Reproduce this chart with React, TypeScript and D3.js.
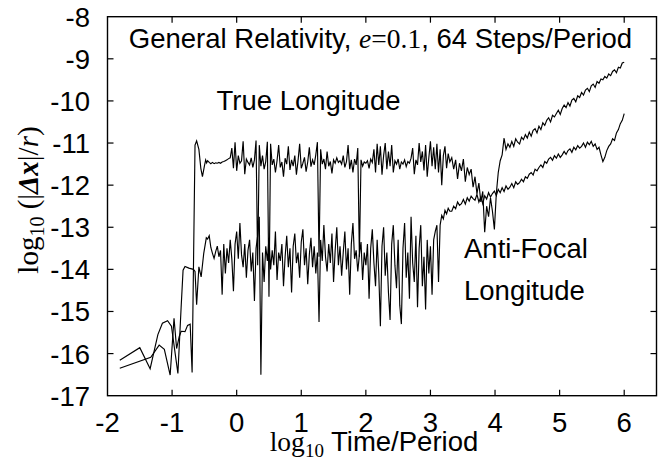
import React from "react";
import * as d3 from "d3";

// ---- axis setup ----
const X_TICKS = [-2, -1, 0, 1, 2, 3, 4, 5, 6];
const Y_TICKS = [-17, -16, -15, -14, -13, -12, -11, -10, -9, -8];

// ---- True Longitude series ----
const tlEarlyX = [-1.81, -1.33, -1.20, -1.12, -1.03, -0.97, -0.93, -0.89, -0.86, -0.80, -0.76, -0.72, -0.69, -0.645, -0.62, -0.585, -0.555, -0.53, -0.50, -0.48, -0.465];
const tlEarlyY = [-16.35, -16.09, -15.80, -15.90, -16.51, -15.16, -15.88, -15.60, -15.47, -15.48, -15.33, -15.30, -16.45, -11.05, -10.95, -11.15, -11.60, -11.80, -11.55, -11.40, -11.47];

const bandStart = -0.45;
const bandStep = 0.025;
const tlBandY = [
  -11.42, -11.46, -11.49, -11.46, -11.49, -11.47, -11.48, -11.46, -11.48, -11.45,
  -11.44, -11.42, -11.40, -11.37, -11.35, -11.12, -11.60, -10.98, -11.66, -11.30,
  -11.48, -11.42, -10.96, -11.74, -11.38, -11.46, -11.52, -11.35, -11.58, -11.40,
  -10.94, -13.90, -11.05, -11.55, -11.30, -11.62, -11.44, -10.97, -14.65, -11.02,
  -11.52, -11.38, -11.70, -11.42, -11.05, -11.58, -11.45, -11.80, -11.36, -11.50,
  -11.08, -11.64, -11.40, -11.55, -11.30, -11.75, -11.42, -11.02, -11.60, -11.48,
  -11.34, -11.68, -11.45, -11.10, -11.56, -11.40, -11.52, -11.28, -10.98, -13.70,
  -11.15, -11.50, -11.38, -11.62, -11.20, -11.55, -11.44, -11.72, -11.40, -11.48,
  -11.35, -11.46, -11.42, -11.50, -11.30, -11.58, -11.44, -11.05, -11.62, -11.40,
  -11.70, -11.38, -11.52, -11.12, -13.70, -11.40, -11.55, -11.45, -11.48, -11.42,
  -11.60, -11.38, -11.46, -11.15, -11.70, -11.02, -11.52, -11.08, -11.75, -11.30,
  -11.00, -11.62, -11.20, -11.55, -11.05, -11.70, -11.42, -11.50, -11.38, -11.62,
  -11.45, -11.50, -11.40, -11.56, -11.44, -11.48, -11.36, -11.12, -11.74, -11.40,
  -11.52, -11.00, -11.45, -11.20, -11.65, -11.05, -11.80, -11.35, -10.96, -11.55,
  -11.10, -11.62, -11.02, -11.70, -11.15, -12.00, -11.30, -11.08, -11.60, -11.25,
  -11.45,
];

const lateStart = 3.33;
const lateStep = 0.03;
const tlLateY = [
  -11.35, -11.62, -11.40, -11.85, -11.48, -11.66, -11.38, -11.92, -11.58, -11.75,
  -11.62, -12.05, -11.80, -12.20, -11.95, -12.40, -12.15, -13.12, -12.50, -12.75,
  -12.30, -12.62, -13.05, -12.20, -11.70, -11.42, -11.28, -10.88,
  -11.15, -11.02, -11.10, -10.96, -11.08, -10.90, -10.98, -11.02, -10.86, -10.92,
  -10.80, -10.88, -10.74, -10.84, -10.70, -10.66, -10.76, -10.60, -10.68, -10.52,
  -10.58, -10.46, -10.40, -10.50, -10.34, -10.38, -10.30, -10.22, -10.32, -10.18,
  -10.10, -10.16, -10.04, -10.12, -9.98, -9.94, -10.02, -9.88, -9.92, -9.80,
  -9.86, -9.74, -9.70, -9.78, -9.64, -9.60, -9.68, -9.54, -9.58, -9.48,
  -9.50, -9.42, -9.46, -9.36, -9.40, -9.30, -9.26, -9.33, -9.20, -9.22, -9.10, -9.08,
];

// ---- Anti-Focal Longitude series ----
const afEarlyX = [-1.81, -1.50, -1.34, -1.22, -1.15, -1.07, -1.01, -0.91, -0.86, -0.83, -0.80, -0.74, -0.67, -0.645, -0.62, -0.585, -0.55, -0.51, -0.47];
const afEarlyY = [-16.16, -15.86, -16.36, -15.55, -15.28, -15.22, -15.35, -16.47, -14.90, -14.02, -13.93, -13.97, -14.00, -14.05, -14.84, -13.94, -14.18, -13.62, -13.25];

const afBandY = [
  -13.28, -13.20, -13.48, -13.62, -13.74, -13.58, -13.45, -13.70, -13.55, -14.60,
  -13.40, -14.10, -13.50, -13.85, -13.30, -13.75, -14.52, -13.40, -13.10, -13.75,
  -12.90, -13.65, -13.95, -13.40, -14.20, -13.55, -13.30, -14.05, -13.60, -14.75,
  -13.50, -13.20, -12.75, -16.50, -13.60, -14.30, -13.45, -13.80, -13.25, -14.00,
  -13.55, -13.90, -13.10, -14.25, -13.60, -13.80, -13.40, -14.40, -13.70, -13.20,
  -13.95, -13.50, -14.55, -13.45, -13.15, -13.85, -13.60, -14.20, -13.35, -13.05,
  -13.90, -13.50, -14.35, -13.65, -13.25, -13.95, -13.45, -14.10, -13.60, -15.25,
  -13.30, -13.80, -12.95, -13.70, -14.05, -13.40, -13.85, -13.15, -14.30, -13.55,
  -13.00, -13.90, -13.45, -14.15, -13.60, -13.10, -14.00, -13.50, -14.60, -13.40,
  -12.90, -13.75, -13.55, -14.05, -13.65, -13.35, -14.25, -13.60, -13.90, -13.40,
  -14.70, -13.50, -13.05, -13.85, -14.40, -13.30, -14.10, -15.35, -13.45, -13.00,
  -14.15, -13.60, -14.55, -15.20, -13.40, -12.95, -13.90, -14.45, -13.30, -14.85,
  -15.30, -13.50, -12.90, -14.20, -13.60, -14.70, -12.75, -13.85, -14.30, -13.20,
  -14.90, -13.50, -12.95, -14.40, -13.70, -14.95, -13.30, -14.10, -13.45, -14.60,
  -13.30, -13.10, -12.95, -14.30, -12.95, -12.72, -12.80, -12.60, -12.68, -12.55,
  -12.62,
];

const afLateY = [
  -12.62, -12.50, -12.56, -12.40, -12.48, -12.44, -12.34, -12.45, -12.30, -12.38,
  -12.26, -12.32, -12.36, -12.22, -12.40, -12.28, -12.44, -12.25, -12.33, -12.18,
  -12.28, -12.20, -12.14, -12.25, -12.10, -12.18, -12.06, -12.15, -12.02, -12.10,
  -12.05, -11.96, -12.06, -11.92, -11.98, -11.94, -11.86, -11.92, -11.80, -11.84,
  -11.74, -11.70, -11.76, -11.62, -11.66, -11.58, -11.52, -11.58, -11.44, -11.48,
  -11.38, -11.34, -11.41, -11.30, -11.36, -11.26, -11.34, -11.28, -11.20, -11.27,
  -11.18, -11.14, -11.22, -11.10, -11.16, -11.06, -11.12, -11.08, -11.00, -11.10,
  -10.98, -11.04, -10.96, -11.08, -11.02, -11.15, -11.10, -11.28, -11.44, -11.34,
  -11.18, -11.08, -11.02, -10.90, -10.94, -10.76, -10.68, -10.54, -10.46, -10.30,
];

type Pt = [number, number];

function buildSeries(ex: number[], ey: number[], band: number[], late: number[]): Pt[] {
  const pts: Pt[] = ex.map((x, i) => [x, ey[i]] as Pt);
  band.forEach((y, i) => pts.push([bandStart + i * bandStep, y]));
  late.forEach((y, i) => pts.push([lateStart + i * lateStep, y]));
  return pts;
}

const SANS = "'Liberation Sans', Arial, Helvetica, sans-serif";
const SERIF = "'Liberation Serif', 'Times New Roman', serif";

export default function App() {
  const W = 665;
  const H = 464;
  const left = 107.5, right = 656.5, top = 16.7, bottom = 395.7;

  const x = d3.scaleLinear().domain([-2, 6.5]).range([left, right]);
  const y = d3.scaleLinear().domain([-17, -8]).range([bottom, top]);

  const line = d3
    .line<Pt>()
    .x((d) => x(d[0]))
    .y((d) => y(d[1]));

  const tl = buildSeries(tlEarlyX, tlEarlyY, tlBandY, tlLateY);
  const af = buildSeries(afEarlyX, afEarlyY, afBandY, afLateY);

  const tickLen = 6;
  const fs = 27.5;

  return (
    <svg
      width={W}
      height={H}
      style={{ position: "absolute", left: 0, top: 0, background: "#fff" }}
    >
      <rect x={0} y={0} width={W} height={H} fill="#fff" />
      <path d={line(tl) || ""} fill="none" stroke="#000" strokeWidth={1.15} />
      <path d={line(af) || ""} fill="none" stroke="#000" strokeWidth={1.15} />

      {/* frame */}
      <rect x={left} y={top} width={right - left} height={bottom - top} fill="none" stroke="#000" strokeWidth={1.4} />

      {/* x ticks */}
      {X_TICKS.map((t) => (
        <g key={"xt" + t}>
          {t > -2 && (
            <>
              <line x1={x(t)} x2={x(t)} y1={bottom} y2={bottom - tickLen} stroke="#000" strokeWidth={1.2} />
              <line x1={x(t)} x2={x(t)} y1={top} y2={top + tickLen} stroke="#000" strokeWidth={1.2} />
            </>
          )}
          <text x={x(t)} y={432} textAnchor="middle" fontFamily={SANS} fontSize={fs}>
            {t}
          </text>
        </g>
      ))}

      {/* y ticks */}
      {Y_TICKS.map((t) => (
        <g key={"yt" + t}>
          {t > -17 && t < -8 && (
            <>
              <line x1={left} x2={left + tickLen} y1={y(t)} y2={y(t)} stroke="#000" strokeWidth={1.2} />
              <line x1={right} x2={right - tickLen} y1={y(t)} y2={y(t)} stroke="#000" strokeWidth={1.2} />
            </>
          )}
          <text x={90} y={y(t) + 10} textAnchor="end" fontFamily={SANS} fontSize={fs}>
            {t}
          </text>
        </g>
      ))}

      {/* title */}
      <text x={380.5} y={48} textAnchor="middle" fontFamily={SANS} fontSize={fs}>
        <tspan>General Relativity, </tspan>
        <tspan fontFamily={SERIF} fontStyle="italic">e</tspan>
        <tspan fontFamily={SERIF}>=0.1</tspan>
        <tspan>, 64 Steps/Period</tspan>
      </text>

      {/* annotations */}
      <text x={216.5} y={110} fontFamily={SANS} fontSize={fs}>True Longitude</text>
      <text x={464} y={258} fontFamily={SANS} fontSize={fs}>Anti-Focal</text>
      <text x={464} y={300} fontFamily={SANS} fontSize={fs}>Longitude</text>

      {/* x label */}
      <text x={374} y={451} textAnchor="middle" fontSize={fs}>
        <tspan fontFamily={SERIF}>log</tspan>
        <tspan fontFamily={SERIF} fontSize={19} dy={6}>10</tspan>
        <tspan fontFamily={SANS} dy={-6}> Time/Period</tspan>
      </text>

      {/* y label */}
      <text transform="rotate(-90)" x={-200} y={38} textAnchor="middle" fontSize={29} fontFamily={SERIF}>
        <tspan>log</tspan>
        <tspan fontSize={20} dy={6}>10</tspan>
        <tspan dy={-6}> (|</tspan>
        <tspan fontWeight="bold" fontStyle="italic">Δx</tspan>
        <tspan>|/</tspan>
        <tspan fontStyle="italic">r</tspan>
        <tspan>)</tspan>
      </text>
    </svg>
  );
}
